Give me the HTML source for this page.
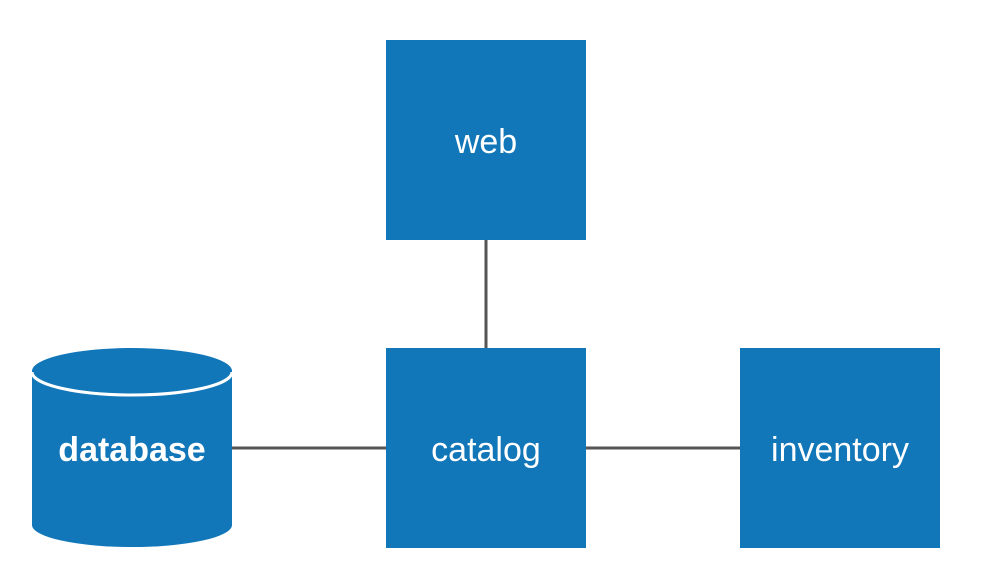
<!DOCTYPE html>
<html><head><style>body{margin:0;background:#fff}</style></head><body>
<svg width="982" height="582" xmlns="http://www.w3.org/2000/svg" font-family="Liberation Sans, sans-serif" font-size="34" fill="#fff">
<g stroke="#555" stroke-width="3">
<line x1="486" y1="240" x2="486" y2="348"/>
<line x1="232" y1="448" x2="386" y2="448"/>
<line x1="586" y1="448" x2="740" y2="448"/>
</g>
<rect x="386" y="40" width="200" height="200" fill="#1277b9"/>
<rect x="386" y="348" width="200" height="200" fill="#1277b9"/>
<rect x="740" y="348" width="200" height="200" fill="#1277b9"/>
<path d="M32 371 L32 525 A100 22 0 0 0 232 525 L232 371 Z" fill="#1277b9"/>
<ellipse cx="132" cy="371" rx="100" ry="23" fill="#1277b9"/>
<path d="M32 372 A100 23 0 0 0 232 372" fill="none" stroke="#fff" stroke-width="3"/>
<text x="486" y="153" text-anchor="middle">web</text>
<text x="486" y="461" text-anchor="middle">catalog</text>
<text x="840" y="461" text-anchor="middle">inventory</text>
<text x="132" y="461" text-anchor="middle" font-weight="bold">database</text>
</svg>
</body></html>
